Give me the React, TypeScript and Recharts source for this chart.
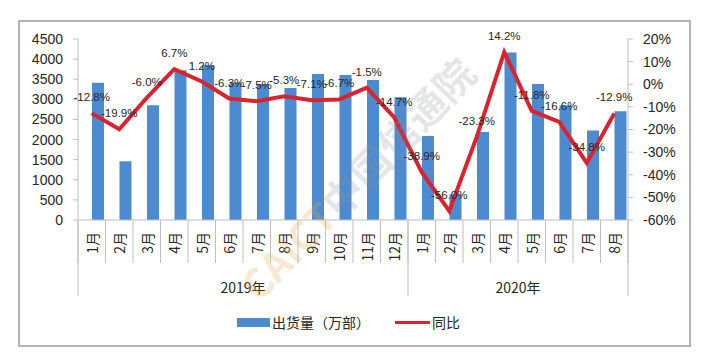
import { ComposedChart, Bar, Line, XAxis, YAxis, LabelList } from "recharts";

// monthly shipments (万部) and year-on-year change (%)
const MONTHS = [
  "1月", "2月", "3月", "4月", "5月", "6月", "7月", "8月", "9月", "10月", "11月", "12月",
  "1月", "2月", "3月", "4月", "5月", "6月", "7月", "8月",
];
const YEARS = [
  { label: "2019年", count: 12 },
  { label: "2020年", count: 8 },
];
const SHIPMENTS = [
  3410, 1460, 2850, 3720, 3850, 3420, 3380, 3280, 3630, 3605, 3480, 3050,
  2090, 638, 2186, 4166, 3383, 2846, 2228, 2705,
];
const YOY = [
  -12.8, -19.9, -6.0, 6.7, 1.2, -6.3, -7.5, -5.3, -7.1, -6.7, -1.5, -14.7,
  -38.9, -56.0, -23.3, 14.2, -11.8, -16.6, -34.8, -12.9,
];
const LEFT_TICKS = [0, 500, 1000, 1500, 2000, 2500, 3000, 3500, 4000, 4500];
const RIGHT_TICKS = [-60, -50, -40, -30, -20, -10, 0, 10, 20];

const W = 709;
const H = 357;
const PLOT_LEFT = 78;
const PLOT_RIGHT = 628;
const BAND = (PLOT_RIGHT - PLOT_LEFT) / MONTHS.length;
const MONTH_AXIS_H = 43;
const YEAR_AXIS_H = 34;

const BLUE = "#4d8bd0";
const RED = "#d9232e";
const GRID = "#bfbfbf";
const TEXT = "#262626";
const SANS = "'Liberation Sans', Arial, sans-serif";
const CJK = "'Noto Sans CJK SC', sans-serif";

const yearOf: string[] = [];
YEARS.forEach((y) => {
  for (let i = 0; i < y.count; i++) yearOf.push(y.label);
});

const data = MONTHS.map((m, i) => ({
  key: `${yearOf[i]}-${m}`,
  month: m,
  year: yearOf[i],
  shipments: SHIPMENTS[i],
  yoy: YOY[i],
}));

function MonthTick(props: any) {
  const { x, y, index } = props;
  const label = MONTHS[index];
  const left = x - BAND / 2;
  return (
    <g>
      <line x1={left} x2={left} y1={y} y2={y + MONTH_AXIS_H} stroke={GRID} />
      {index === MONTHS.length - 1 && (
        <line x1={left + BAND} x2={left + BAND} y1={y} y2={y + MONTH_AXIS_H} stroke={GRID} />
      )}
      <text
        x={x}
        y={y + 12}
        transform={`rotate(-90, ${x}, ${y + 12})`}
        textAnchor="end"
        dominantBaseline="central"
        fontSize={14}
        fontFamily={CJK}
        fill={TEXT}
      >
        {label}
      </text>
    </g>
  );
}

function YearTick(props: any) {
  const { x, y, index } = props;
  let start = 0;
  const parts: any[] = [];
  YEARS.forEach((yr) => {
    if (index === start) {
      const left = x - BAND / 2;
      parts.push(
        <g key={yr.label}>
          <line x1={left} x2={left} y1={y - MONTH_AXIS_H} y2={y + YEAR_AXIS_H - 1} stroke={GRID} />
          <text
            x={left + (yr.count * BAND) / 2}
            y={y + 24}
            textAnchor="middle"
            dominantBaseline="central"
            fontSize={14}
            fontFamily={CJK}
            fill={TEXT}
          >
            {yr.label}
          </text>
        </g>
      );
    }
    start += yr.count;
  });
  if (index === MONTHS.length - 1) {
    const right = x + BAND / 2;
    parts.push(
      <line key="end" x1={right} x2={right} y1={y - MONTH_AXIS_H} y2={y + YEAR_AXIS_H - 1} stroke={GRID} />
    );
  }
  return <g>{parts}</g>;
}

export default function App() {
  return (
    <div style={{ position: "relative", width: W, height: H, background: "#fff" }}>
      <style>{"body{margin:0;}"}</style>
      {/* outer frame */}
      <div
        style={{
          position: "absolute",
          left: 18,
          top: 20,
          width: 669,
          height: 323,
          border: "2px solid #b4b4b4",
        }}
      />
      <div style={{ position: "absolute", left: 0, top: 0 }}>
        <ComposedChart
          width={W}
          height={H}
          data={data}
          margin={{ top: 39, right: 21, left: 18, bottom: H - 220 - MONTH_AXIS_H - YEAR_AXIS_H }}
          barGap={0}
        >
          <XAxis
            dataKey="key"
            interval={0}
            height={MONTH_AXIS_H}
            tickSize={0}
            tickMargin={0}
            tickLine={false}
            axisLine={{ stroke: GRID }}
            tick={<MonthTick />}
          />
          <XAxis
            xAxisId="year"
            dataKey="key"
            interval={0}
            height={YEAR_AXIS_H}
            tickSize={0}
            tickMargin={0}
            tickLine={false}
            axisLine={false}
            tick={<YearTick />}
          />
          <YAxis
            yAxisId="left"
            width={60}
            domain={[0, 4500]}
            ticks={LEFT_TICKS}
            interval={0}
            tickSize={5}
            tickMargin={10}
            axisLine={{ stroke: GRID }}
            tickLine={{ stroke: GRID }}
            tick={{ fontSize: 14, fill: TEXT, fontFamily: SANS }}
          />
          <YAxis
            yAxisId="right"
            orientation="right"
            width={60}
            domain={[-60, 20]}
            ticks={RIGHT_TICKS}
            interval={0}
            tickSize={5}
            tickMargin={10}
            axisLine={{ stroke: GRID }}
            tickLine={{ stroke: GRID }}
            tickFormatter={(v: number) => `${v}%`}
            tick={{ fontSize: 14, fill: TEXT, fontFamily: SANS }}
          />
          {/* empty slot so the bars sit right of the band centre, as in the source */}
          <Bar yAxisId="left" dataKey="pad" barSize={12} fill="none" isAnimationActive={false} />
          <Bar yAxisId="left" dataKey="shipments" barSize={12} fill={BLUE} isAnimationActive={false} />
          <Line
            yAxisId="right"
            dataKey="yoy"
            type="linear"
            stroke={RED}
            strokeWidth={4}
            dot={false}
            activeDot={false}
            isAnimationActive={false}
          >
            <LabelList
              dataKey="yoy"
              position="top"
              offset={12}
              fontSize={11.5}
              fontFamily={SANS}
              fill={TEXT}
              formatter={(v: any) => `${Number(v).toFixed(1)}%`}
            />
          </Line>
        </ComposedChart>
      </div>
      {/* watermark */}
      <div
        style={{
          position: "absolute",
          left: 357,
          top: 178,
          transform: "translate(-50%, -50%) rotate(-46deg)",
          fontFamily: CJK,
          fontWeight: 700,
          fontSize: 40,
          whiteSpace: "nowrap",
          color: "rgba(140,140,150,0.22)",
          pointerEvents: "none",
        }}
      >
        <span style={{ color: "rgba(230,170,80,0.25)" }}>CAICT</span>中国信通院
      </div>
      {/* legend */}
      <div
        style={{
          position: "absolute",
          left: 237,
          top: 311,
          display: "flex",
          alignItems: "center",
          fontFamily: CJK,
          fontSize: 14,
          color: TEXT,
          height: 22,
        }}
      >
        <span style={{ display: "inline-block", width: 33, height: 9, background: BLUE, marginRight: 2 }} />
        <span>出货量（万部）</span>
        <span style={{ display: "inline-block", width: 35, height: 3, background: RED, marginLeft: 25, marginRight: 2 }} />
        <span>同比</span>
      </div>
    </div>
  );
}
